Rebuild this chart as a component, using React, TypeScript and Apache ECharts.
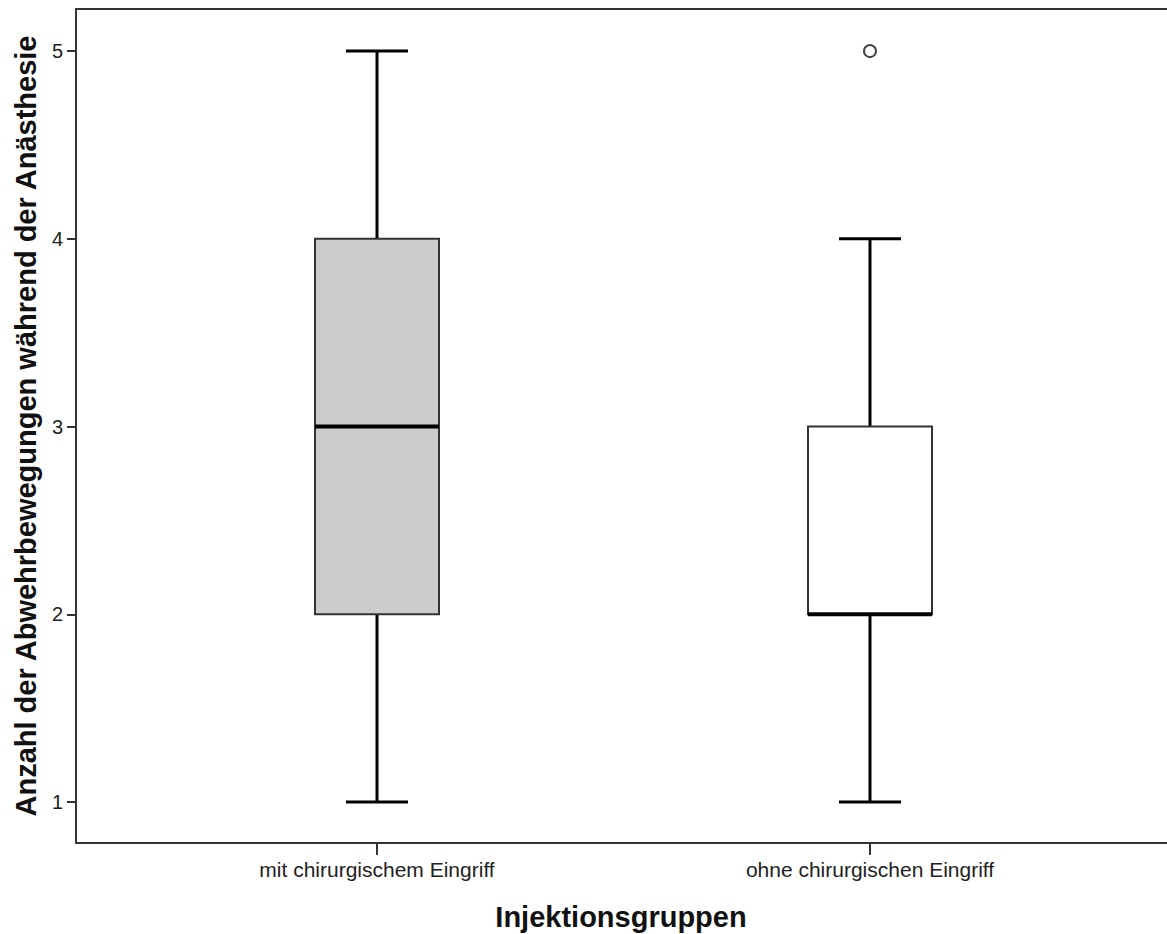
import React, { useEffect, useRef } from "react";
import * as echarts from "echarts";

// Injection groups and their box-plot statistics
const categories = ["mit chirurgischem Eingriff", "ohne chirurgischen Eingriff"];
const whiskerLow = [1, 1];
const quartile1 = [2, 2];
const medians = [3, 2];
const quartile3 = [4, 3];
const whiskerHigh = [5, 4];
const boxFills = ["#cccccc", "#ffffff"];
// Outliers as [categoryIndex, value]
const outliers = [[1, 5]];
const yTicks = [1, 2, 3, 4, 5];

const yTitle = "Anzahl der Abwehrbewegungen während der Anästhesie";
const xTitle = "Injektionsgruppen";

const FONT = '"Liberation Sans", Arial, sans-serif';

// Plot geometry (px); the frame runs to the right edge of the canvas
const GRID_LEFT = 76;
const GRID_TOP = 9;
const GRID_WIDTH = 1091;
const GRID_HEIGHT = 834;
const FIRST_CENTER = 377;
const CENTER_STEP = 493;
const BOX_HALF = 62;
const CAP_HALF = 31;

const X_MIN = (GRID_LEFT - FIRST_CENTER) / CENTER_STEP;
const X_MAX = X_MIN + GRID_WIDTH / CENTER_STEP;

export default function App() {
  const ref = useRef<HTMLDivElement>(null);

  useEffect(() => {
    if (!ref.current) return;
    const chart = echarts.init(ref.current, null, { renderer: "svg" });

    const boxData = categories.map((_, i) => [
      i,
      whiskerLow[i],
      quartile1[i],
      medians[i],
      quartile3[i],
      whiskerHigh[i],
    ]);

    const renderBox = (params: any, api: any) => {
      const idx = api.value(0);
      const cx = api.coord([idx, 0])[0];
      const yLow = api.coord([idx, api.value(1)])[1];
      const yQ1 = api.coord([idx, api.value(2)])[1];
      const yMed = api.coord([idx, api.value(3)])[1];
      const yQ3 = api.coord([idx, api.value(4)])[1];
      const yHigh = api.coord([idx, api.value(5)])[1];
      const whisker = { stroke: "#000", lineWidth: 3 };
      return {
        type: "group",
        children: [
          { type: "line", shape: { x1: cx, y1: yLow, x2: cx, y2: yQ1 }, style: whisker },
          { type: "line", shape: { x1: cx, y1: yQ3, x2: cx, y2: yHigh }, style: whisker },
          { type: "line", shape: { x1: cx - CAP_HALF, y1: yLow, x2: cx + CAP_HALF, y2: yLow }, style: whisker },
          { type: "line", shape: { x1: cx - CAP_HALF, y1: yHigh, x2: cx + CAP_HALF, y2: yHigh }, style: whisker },
          {
            type: "rect",
            shape: { x: cx - BOX_HALF, y: yQ3, width: BOX_HALF * 2, height: yQ1 - yQ3 },
            style: { fill: boxFills[params.dataIndex], stroke: "#333", lineWidth: 2 },
          },
          {
            type: "line",
            shape: { x1: cx - BOX_HALF, y1: yMed, x2: cx + BOX_HALF, y2: yMed },
            style: { stroke: "#000", lineWidth: 4 },
          },
        ],
      };
    };

    chart.setOption({
      animation: false,
      backgroundColor: "#ffffff",
      grid: {
        left: GRID_LEFT,
        top: GRID_TOP,
        width: GRID_WIDTH,
        height: GRID_HEIGHT,
        outerBoundsMode: "none",
      },
      xAxis: [
        {
          type: "value",
          min: X_MIN,
          max: X_MAX,
          axisLine: { show: true, onZero: false, lineStyle: { color: "#333", width: 2 } },
          axisTick: { show: true, customValues: [0, 1], length: 12, lineStyle: { color: "#333", width: 2 } },
          axisLabel: {
            customValues: [0, 1],
            formatter: (v: number) => categories[Math.round(v)] ?? "",
            fontSize: 21,
            color: "#222",
            fontFamily: FONT,
            margin: 16,
          },
          splitLine: { show: false },
        },
        {
          type: "value",
          position: "top",
          min: X_MIN,
          max: X_MAX,
          axisLine: { show: true, onZero: false, lineStyle: { color: "#333", width: 2 } },
          axisTick: { show: false },
          axisLabel: { show: false },
          splitLine: { show: false },
        },
      ],
      yAxis: {
        type: "value",
        min: 0.782,
        max: 5.224,
        name: yTitle,
        nameLocation: "middle",
        nameGap: 34,
        nameTextStyle: { fontSize: 29, fontWeight: "bold", color: "#111", fontFamily: FONT },
        axisLine: { show: true, onZero: false, lineStyle: { color: "#333", width: 2 } },
        axisTick: { show: true, customValues: yTicks, length: 9, lineStyle: { color: "#333", width: 2 } },
        axisLabel: {
          customValues: yTicks,
          formatter: (v: number) => String(v),
          fontSize: 20,
          color: "#222",
          fontFamily: FONT,
          margin: 13,
        },
        splitLine: { show: false },
      },
      graphic: [
        {
          type: "text",
          x: 621,
          y: 917,
          style: {
            text: xTitle,
            fontSize: 29,
            fontWeight: "bold",
            fontFamily: FONT,
            fill: "#111",
            align: "center",
            verticalAlign: "middle",
          },
        },
      ],
      series: [
        {
          type: "custom",
          xAxisIndex: 0,
          data: boxData,
          renderItem: renderBox,
          clip: false,
        },
        {
          type: "scatter",
          xAxisIndex: 0,
          data: outliers,
          symbol: "circle",
          symbolSize: 12,
          itemStyle: { color: "#ffffff", borderColor: "#444", borderWidth: 2, opacity: 1 },
        },
      ],
    });

    return () => chart.dispose();
  }, []);

  return (
    <div
      ref={ref}
      style={{ position: "absolute", left: 0, top: 0, width: 1167, height: 934 }}
    />
  );
}
